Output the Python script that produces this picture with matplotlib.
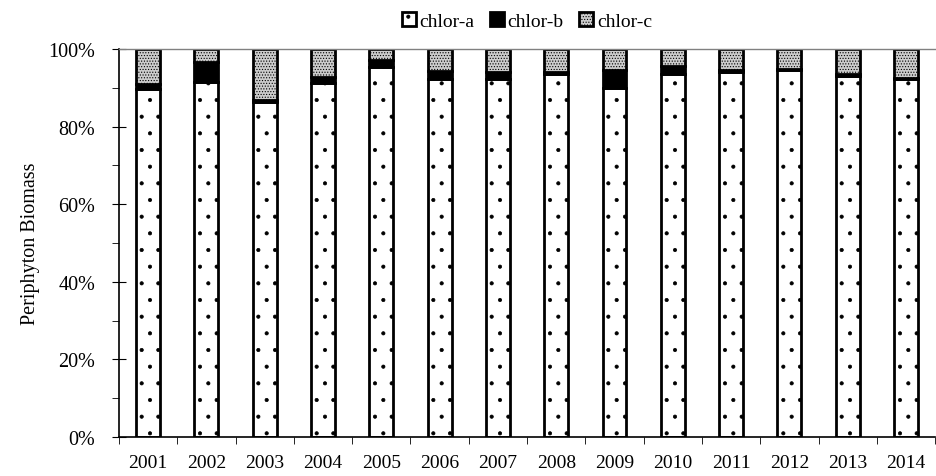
import matplotlib
matplotlib.use('Agg')
import matplotlib.pyplot as plt
import numpy as np
from matplotlib.ticker import PercentFormatter, MultipleLocator

years = ['2001', '2002', '2003', '2004', '2005', '2006', '2007',
         '2008', '2009', '2010', '2011', '2012', '2013', '2014']
chlor_a = [89.7, 91.4, 86.4, 91.2, 95.3, 92.3, 92.3, 93.7, 89.9, 93.7, 94.2, 94.7, 93.1, 92.3]
chlor_b = [1.2, 5.2, 0.4, 1.5, 1.9, 2.1, 1.9, 0.4, 4.8, 2.0, 0.4, 0.1, 0.5, 0.2]
chlor_c = [100 - a - b for a, b in zip(chlor_a, chlor_b)]

plt.rcParams['font.family'] = ['Liberation Serif', 'DejaVu Serif']
plt.rcParams['hatch.linewidth'] = 0.5
plt.rcParams['hatch.color'] = 'black'

fig = plt.figure(figsize=(9.37, 4.77), dpi=100)
ax = fig.add_axes([0.127, 0.082, 0.871, 0.813])

x = np.arange(len(years))
w = 0.41
a = np.array(chlor_a)
b = np.array(chlor_b)
c = np.array(chlor_c)

ax.bar(x, a, w, color='white', edgecolor='black', linewidth=2, hatch='.', label='chlor-a')
ax.bar(x, b, w, bottom=a, color='black', edgecolor='black', linewidth=2, label='chlor-b')
ax.bar(x, c, w, bottom=a + b, color='#cccccc', edgecolor='black', linewidth=2, hatch='......', label='chlor-c')

ax.set_xlim(-0.5, len(years) - 0.5)
ax.set_ylim(0, 100)
ax.yaxis.set_major_locator(MultipleLocator(20))
ax.yaxis.set_minor_locator(MultipleLocator(10))
ax.yaxis.set_major_formatter(PercentFormatter(decimals=0))
ax.set_xticks(x)
ax.set_xticklabels(years)
ax.set_xticks(np.arange(len(years) + 1) - 0.5, minor=True)
ax.tick_params(axis='x', which='major', length=0, labelsize=14, pad=12)
ax.tick_params(axis='x', which='minor', length=5, direction='out')
ax.tick_params(axis='y', which='major', length=10, direction='inout', labelsize=14.5, pad=12)
ax.tick_params(axis='y', which='minor', length=5, direction='out')

ax.spines['right'].set_visible(False)
ax.spines['top'].set_color('#808080')
ax.spines['top'].set_linewidth(1)
ax.spines['left'].set_linewidth(1.2)
ax.spines['bottom'].set_linewidth(1.2)

ax.set_ylabel('Periphyton Biomass', fontsize=14.5, labelpad=6)

ax.legend(loc='lower center', bbox_to_anchor=(0.5, 1.0), ncol=3, frameon=False,
          fontsize=14, handlelength=0.7, handleheight=0.7, handletextpad=0.2,
          columnspacing=0.8, borderaxespad=0.6)

fig.savefig('out.png', dpi=100)
